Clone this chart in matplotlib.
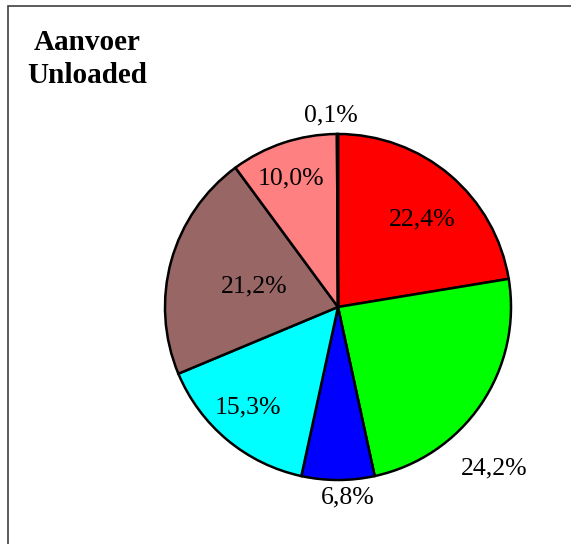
import matplotlib
matplotlib.use("Agg")
import matplotlib.pyplot as plt
import numpy as np
from matplotlib.patches import Rectangle

labels = ["22,4%", "24,2%", "6,8%", "15,3%", "21,2%", "10,0%", "0,1%"]
values = [22.4, 24.2, 6.8, 15.3, 21.2, 10.0, 0.1]
colors = ["#FF0000", "#00FF00", "#0000FF", "#00FFFF", "#996666", "#FF8080", "#FFFF99"]
title_lines = ["Aanvoer", "Unloaded"]

# label placement style: (radius fraction, angle offset in degrees)
label_style = [(0.70, -3.7), (1.30, -11.7), (1.10, 3.0), (0.78, -2.0), (0.50, 1.5), (0.79, 1.8), (1.11, 2.0)]

W, H = 571, 544
fig = plt.figure(figsize=(W / 100, H / 100), dpi=100)
plt.rcParams['font.family'] = ['Liberation Serif', 'DejaVu Serif']

cx, cy, r = 338, 307, 173
ax = fig.add_axes([(cx - r) / W, 1 - (cy + r) / H, 2 * r / W, 2 * r / H])
wedges, _ = ax.pie(values, colors=colors, startangle=90, counterclock=False,
                   wedgeprops=dict(edgecolor="black", linewidth=1.8))
ax.set_xlim(-1, 1)
ax.set_ylim(-1, 1)
ax.set_aspect("equal")
ax.axis("off")

for w, lab, (rad, off) in zip(wedges, labels, label_style):
    mid = np.deg2rad((w.theta1 + w.theta2) / 2 + off)
    ax.text(rad * np.cos(mid), rad * np.sin(mid), lab, ha="center", va="center",
            fontsize=18.5, clip_on=False)

fig.text(87 / W, 1 - 59 / H, "\n".join(title_lines), ha="center", va="center",
         fontsize=21, fontweight="bold", linespacing=1.25)

fig.patches.append(Rectangle((8 / W, -0.1), 1.2, 1 - 6 / H + 0.1, transform=fig.transFigure,
                             fill=False, edgecolor="#404040", linewidth=1.2))

fig.savefig("out.png", dpi=100)
